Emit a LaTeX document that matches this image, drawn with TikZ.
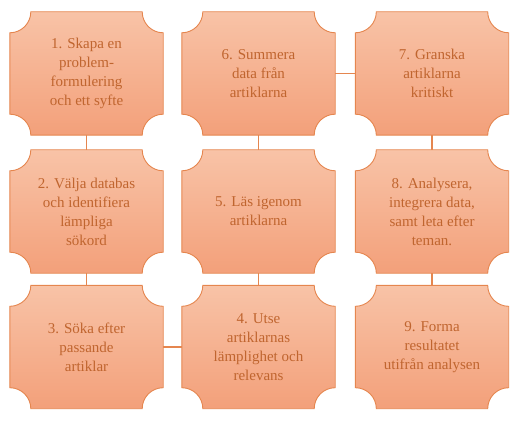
\documentclass[tikz,border=0pt]{standalone}
\usepackage{fontspec}
\setmainfont{Liberation Serif}
\usetikzlibrary{calc,backgrounds}
\definecolor{txt}{HTML}{C0652F}
\definecolor{edge}{HTML}{E5864F}
\definecolor{ftop}{HTML}{F8C3A7}
\definecolor{fbot}{HTML}{F3A07A}
\tikzset{
  stepnode/.style={rectangle, minimum width=153pt, minimum height=123pt, inner sep=0pt,
    align=center, text=txt, font=\fontsize{15pt}{19pt}\selectfont},
  plaquestyle/.style={draw=edge, line width=0.9pt, top color=ftop, bottom color=fbot},
  link/.style={draw=edge, line width=1.6pt}
}
\newcommand{\plaquebox}[1]{%
  \path[plaquestyle]
    ($(#1.north west)+(21pt,0)$) -- ($(#1.north east)+(-21pt,0)$)
    arc[start angle=180,end angle=270,radius=21pt]
    -- ($(#1.south east)+(0,21pt)$)
    arc[start angle=90,end angle=180,radius=21pt]
    -- ($(#1.south west)+(21pt,0)$)
    arc[start angle=0,end angle=90,radius=21pt]
    -- ($(#1.north west)+(0,-21pt)$)
    arc[start angle=270,end angle=360,radius=21pt]
    -- cycle;}
\begin{document}
\begin{tikzpicture}[x=1pt,y=1pt]
\useasboundingbox (0,0) rectangle (518,423);
\node[stepnode] (n1) at (86.5,349.5) {1. Skapa en\\problem-\\formulering\\och ett syfte};
\node[stepnode] (n2) at (86.5,211.5) {2. Välja databas\\och identifiera\\lämpliga\\sökord};
\node[stepnode] (n3) at (86.5,76) {3. Söka efter\\passande\\artiklar};
\node[stepnode] (n4) at (258.5,76) {4. Utse\\artiklarnas\\lämplighet och\\relevans};
\node[stepnode] (n5) at (258.5,211.5) {5. Läs igenom\\artiklarna};
\node[stepnode] (n6) at (258.5,349.5) {6. Summera\\data från\\artiklarna};
\node[stepnode] (n7) at (432,349.5) {7. Granska\\artiklarna\\kritiskt};
\node[stepnode] (n8) at (432,211.5) {8. Analysera,\\integrera data,\\samt leta efter\\teman.};
\node[stepnode] (n9) at (432,76) {9. Forma\\resultatet\\utifrån analysen};
\begin{pgfonlayer}{background}
\draw[link] (n1.south) -- (n2.north);
\draw[link] (n2.south) -- (n3.north);
\draw[link] (n3.east) -- (n4.west);
\draw[link] (n4.north) -- (n5.south);
\draw[link] (n5.north) -- (n6.south);
\draw[link] (n6.east) -- (n7.west);
\draw[link] (n7.south) -- (n8.north);
\draw[link] (n8.south) -- (n9.north);
\plaquebox{n1}\plaquebox{n2}\plaquebox{n3}
\plaquebox{n4}\plaquebox{n5}\plaquebox{n6}
\plaquebox{n7}\plaquebox{n8}\plaquebox{n9}
\end{pgfonlayer}
\end{tikzpicture}
\end{document}
